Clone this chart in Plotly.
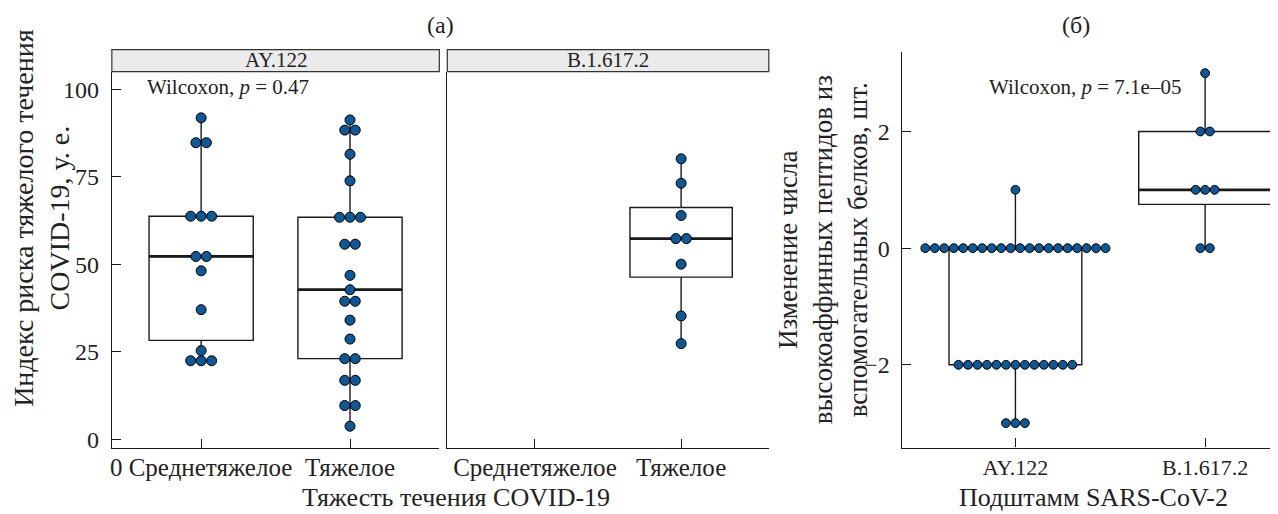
import numpy as np
import plotly.graph_objects as go
from collections import Counter

# ---------------- DATA ----------------
severity_labels = ["0 Среднетяжелое", "Тяжелое"]
severity_labels_b = ["Среднетяжелое", "Тяжелое"]
strip_labels = ["AY.122", "B.1.617.2"]

# Risk index, AY.122
ay_moderate = [91.8, 84.7, 84.7, 63.7, 63.7, 63.7, 52.2, 52.2, 48.1, 37.0,
               25.3, 22.4, 22.4, 22.4]
ay_severe = [91.2, 88.3, 88.3, 81.4, 73.8, 63.4, 63.4, 63.4, 55.7, 55.7,
             46.8, 42.7, 39.4, 39.4, 34.0, 28.6, 23.0, 23.0, 16.8, 16.8,
             9.6, 9.6, 3.7]
# Risk index, B.1.617.2 (severe only)
b_severe = [80.1, 73.1, 63.9, 57.3, 57.3, 50.0, 35.2, 27.3]

# Change in number of high-affinity peptides
strains = ["AY.122", "B.1.617.2"]
pep_ay = [1] + [0] * 20 + [-2] * 13 + [-3] * 3
pep_b = [3, 2, 2, 1, 1, 1, 0, 0]

# ---------------- STYLE ----------------
OFF = 8                      # page body margin
W, H = 1278 - OFF, 514 - OFF
FONT = "Liberation Serif, Times New Roman, DejaVu Serif, serif"
DOT = "#0D5896"
LINE = "#1a1a1a"
TXT = "#222"


def px(v):  # paper fraction from reference pixel x
    return (v - OFF) / W


def py(v):  # paper fraction from reference pixel y (top-origin)
    return 1 - (v - OFF) / H


# panel pixel boxes (reference pixels)
P1 = (110, 438)
P2 = (446, 768)
P3 = (901, 1278)
YL = (72.3, 452.3)
YR = (52, 452)
XR_LEFT = [-0.6, 1.6]
XR_RIGHT = [-0.6, -0.6 + (P3[1] - P3[0]) / 190.0]

fig = go.Figure()


def stats(vals):
    v = np.asarray(vals, dtype=float)
    q1, med, q3 = np.percentile(v, [25, 50, 75])
    iqr = q3 - q1
    lo = v[v >= q1 - 1.5 * iqr].min()
    hi = v[v <= q3 + 1.5 * iqr].max()
    return q1, med, q3, lo, hi


def add_box(vals, xpos, xa, ya):
    q1, med, q3, lo, hi = stats(vals)
    fig.add_trace(go.Box(x=[xpos], q1=[q1], median=[med], q3=[q3],
                         lowerfence=[lo], upperfence=[hi], width=0.7,
                         fillcolor="white", line=dict(color=LINE, width=1.4),
                         whiskerwidth=0, boxpoints=False, xaxis=xa, yaxis=ya,
                         showlegend=False, hoverinfo="skip"))
    # thick median line
    fig.add_trace(go.Box(x=[xpos], q1=[med], median=[med], q3=[med],
                         lowerfence=[med], upperfence=[med], width=0.7,
                         fillcolor="rgba(0,0,0,0)", line=dict(color=LINE, width=2.8),
                         whiskerwidth=0, boxpoints=False, xaxis=xa, yaxis=ya,
                         showlegend=False, hoverinfo="skip"))


def add_dots(vals, xpos, xa, ya, spacing, size):
    cnt = Counter(vals)
    xs, ys = [], []
    for val, n in cnt.items():
        for i in range(n):
            xs.append(xpos + (i - (n - 1) / 2) * spacing)
            ys.append(val)
    fig.add_trace(go.Scatter(x=xs, y=ys, mode="markers", xaxis=xa, yaxis=ya,
                             marker=dict(color=DOT, size=size,
                                         line=dict(color="black", width=1)),
                             showlegend=False, hoverinfo="skip"))


sp1 = 10.5 / ((P1[1] - P1[0]) / 2.2)
sp2 = 10.5 / ((P2[1] - P2[0]) / 2.2)
sp3 = 9.5 / 190.0

add_box(ay_moderate, 0, "x", "y")
add_box(ay_severe, 1, "x", "y")
add_dots(ay_moderate, 0, "x", "y", sp1, 10)
add_dots(ay_severe, 1, "x", "y", sp1, 10)

add_box(b_severe, 1, "x2", "y2")
add_dots(b_severe, 1, "x2", "y2", sp2, 10)

add_box(pep_ay, 0, "x3", "y3")
add_box(pep_b, 1, "x3", "y3")
add_dots(pep_ay, 0, "x3", "y3", sp3, 8.8)
add_dots(pep_b, 1, "x3", "y3", sp3, 8.8)

axcommon = dict(showgrid=False, zeroline=False, showline=True, linecolor=LINE,
                linewidth=1.3, ticks="inside", ticklen=9, tickcolor=LINE,
                tickwidth=1.2, fixedrange=True)
tf_left = dict(family=FONT, size=25, color=TXT)
tf_y = dict(family=FONT, size=24, color=TXT)
tf_right = dict(family=FONT, size=22, color=TXT)

fig.update_layout(
    width=W, height=H, margin=dict(l=0, r=0, t=0, b=0),
    paper_bgcolor="white", plot_bgcolor="white",
    font=dict(family=FONT, color=TXT),
    xaxis=dict(domain=[px(P1[0]), px(P1[1])], range=XR_LEFT, anchor="y",
               tickvals=[0, 1], ticktext=severity_labels, tickfont=tf_left,
               ticklabelstandoff=-3, **axcommon),
    yaxis=dict(domain=[py(YL[1]), py(YL[0])], range=[-2.5, 105], anchor="x",
               tickvals=[0, 25, 50, 75, 100], ticklabelstandoff=7,
               tickfont=tf_y, **axcommon),
    xaxis2=dict(domain=[px(P2[0]), px(P2[1])], range=XR_LEFT, anchor="y2",
                tickvals=[0, 1], ticktext=severity_labels_b, tickfont=tf_left,
                ticklabelstandoff=-3, **axcommon),
    yaxis2=dict(domain=[py(YL[1]), py(YL[0])], range=[-2.5, 105], anchor="x2",
                tickvals=[], showticklabels=False, **axcommon),
    xaxis3=dict(domain=[px(P3[0]), px(P3[1])], range=XR_RIGHT, anchor="y3",
                tickvals=[0, 1], ticktext=strains, tickfont=tf_right,
                **axcommon),
    yaxis3=dict(domain=[py(YR[1]), py(YR[0])], range=[-3.42, 3.37], anchor="x3",
                tickvals=[-2, 0, 2], ticktext=["\u22122", "0", "2"],
                ticklabelstandoff=6, tickfont=tf_y, **axcommon),
)

# strips
for (x0, x1), lab in zip([P1, P2], strip_labels):
    fig.add_shape(type="rect", xref="paper", yref="paper",
                  x0=px(x0), x1=px(x1), y0=py(72.3), y1=py(50),
                  fillcolor="#ebebeb", line=dict(color="#333", width=1.2))
    fig.add_annotation(xref="paper", yref="paper", x=px((x0 + x1) / 2),
                       y=py(61), text=lab, showarrow=False,
                       xanchor="center", yanchor="middle",
                       font=dict(family=FONT, size=21, color=TXT))

ann = []
ann.append(dict(xref="x domain", yref="y", x=(143 - P1[0]) / (P1[1] - P1[0]),
                y=100.6, xanchor="left", yanchor="middle",
                text="Wilcoxon, <i>p</i> = 0.47",
                font=dict(family=FONT, size=21, color=TXT)))
ann.append(dict(xref="x3 domain", yref="y3", x=(987 - P3[0]) / (P3[1] - P3[0]),
                y=2.77, xanchor="left", yanchor="middle",
                text="Wilcoxon, <i>p</i> = 7.1e\u201305",
                font=dict(family=FONT, size=21, color=TXT)))
# titles
ann.append(dict(xref="paper", yref="paper", x=px(439), y=py(25),
                text="(a)", font=dict(family=FONT, size=24, color=TXT)))
ann.append(dict(xref="paper", yref="paper", x=px(1076), y=py(25),
                text="(б)", font=dict(family=FONT, size=24, color=TXT)))
# axis titles
ann.append(dict(xref="paper", yref="paper", x=px(455), y=py(502),
                text="Тяжесть течения COVID-19",
                font=dict(family=FONT, size=26, color=TXT)))
ann.append(dict(xref="paper", yref="paper", x=px(1093), y=py(502),
                text="Подштамм SARS-CoV-2",
                font=dict(family=FONT, size=26, color=TXT)))
ann.append(dict(xref="paper", yref="paper", x=px(40), y=py(220),
                textangle=-90,
                text="Индекс риска тяжелого течения<br>COVID-19, у. е.",
                font=dict(family=FONT, size=28, color=TXT)))
ann.append(dict(xref="paper", yref="paper", x=px(822), y=py(252),
                textangle=-90,
                text="Изменение числа<br>высокоаффинных пептидов из<br>вспомогательных белков, шт.",
                font=dict(family=FONT, size=27, color=TXT)))
for a in ann:
    a.setdefault("showarrow", False)
    a.setdefault("xanchor", "center")
    a.setdefault("yanchor", "middle")
    fig.add_annotation(**a)

fig.write_html("out.html")
